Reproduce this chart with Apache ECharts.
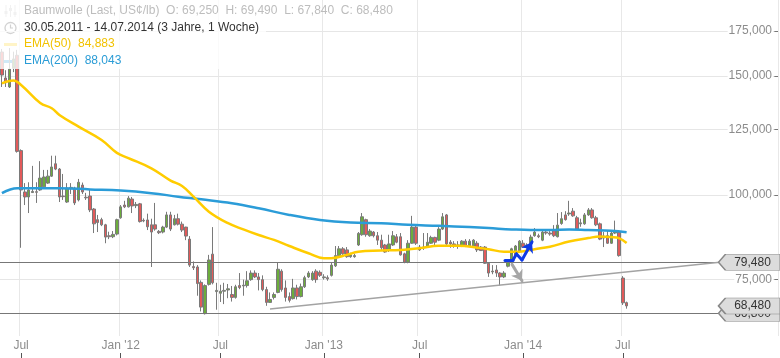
<!DOCTYPE html>
<html><head><meta charset="utf-8">
<script src="https://cdn.jsdelivr.net/npm/echarts@6/dist/echarts.min.js"></script>
<style>html,body{margin:0;padding:0;background:#fff}#c{width:780px;height:358px}</style>
</head><body><div id="c"></div>
<script>
// ---------- data (US cents / lb, weekly) ----------
const startDate = '2011-05-30';
const slotCount = 203;            // weekly slots on the axis (data + empty future)
// [open, close, low, high]
const candles = [
[162.8,150.5,144.5,164.5],[149,146.6,144.5,153],[144.5,153.6,144,165],[154,159,152,163],[161,116,115.5,164],
[116.3,101.7,83.5,116.8],[101,99.3,96.6,104.1],[99.3,101.7,94,104.4],[100.8,101.2,100.7,110.4],[101.1,100.9,97.3,104.4],
[101.7,105.9,101.4,112.2],[102.8,106.3,102.3,108.9],[104.1,106.6,103.8,108.9],[106.6,110,106.3,114.3],[111.2,109.2,108.8,114.3],
[109.2,99.3,97.6,109.6],[99.6,99.4,98.3,107.4],[97.6,102.4,97.3,104.1],[102.2,102.6,100.3,104.1],[102.4,97.3,96.6,102.8],
[98.3,104.4,97.8,105.6],[103.4,101,100.3,104.3],[99.2,99,98.3,100.7],[99.6,95,94.3,101.7],[95.3,90.6,87.8,95.6],
[91.9,91,88.1,93.4],[91.9,90.3,89.9,92.5],[90.3,86.6,84.8,90.6],[87,86.7,86,88.2],[86.7,87.4,86.3,88.4],
[87.5,91.9,87.1,92.2],[92.5,96,92.2,96.6],[96.6,96,95.6,98],[96,98.9,95.8,99.6],[98.6,96.3,94,99.3],
[96.4,96.8,95.6,97.6],[97,91.3,91,97.3],[91.7,91.5,91.1,92.3],[91.8,89.7,88.7,93.8],[90.3,88.1,78.2,92.2],
[90.3,89,88.5,97.3],[88.3,87.9,87.5,88.7],[88.1,89.6,87.7,90],[89.6,93.4,89.3,94.4],[93.4,89,88.4,94.4],
[90.3,92.2,90.1,93.4],[92.2,90.5,90.1,93.8],[90.5,88.7,88.1,91.3],[89.6,86.9,85.7,89.7],[86,78.7,78.2,86.9],
[78.3,78,77.4,79.7],[78.2,73.9,70.9,78.7],[74.2,68.2,67.2,74.7],[66.7,73.4,66.5,73.7],[73.7,80.1,73.4,81.5],
[81.7,74.1,73.7,89.6],[71.9,72.2,67.6,74.1],[71.5,72,69.4,73.6],[72,72.2,68.9,74.1],[72.3,72.6,70.3,73.8],
[71.2,70.5,69.5,73.3],[70.5,73.1,70.2,73.6],[73.4,72.9,72.5,76.6],[73.3,73.5,70.9,74.9],[73.4,74.6,72.9,77.1],
[74.9,76.6,74.6,77.3],[76.6,75.6,75.3,77.3],[75.6,74.9,72.2,76.6],[74.9,72.4,72,76],[72.4,69.3,68.5,73.1],
[69.3,70,69.2,71.7],[70.5,71.2,70,71.7],[71.7,77.6,71.5,79.5],[77.1,72.4,71.9,77.6],[72.8,70.5,69.5,74.7],
[70.7,69.8,69.3,71.7],[70.2,72.8,70,75.1],[72.8,70.7,70,73.6],[70.7,73.1,70.5,73.9],[73.1,75.4,72.8,75.9],
[75.6,76.6,75.3,77.1],[74.9,76.6,74.6,77.1],[77.1,74.9,74.1,77.6],[76.8,76,75.6,77.3],[75.4,75.6,74.9,76.3],
[75.4,75.1,74.6,76],[76,78.7,75.7,79.5],[78.5,81.3,78.2,84],[81.3,83.2,81,84],[83.2,81.8,81.5,83.7],
[82.9,81,80.7,83.7],[81,81.5,80.7,82.1],[81,81.3,80.7,81.8],[84.3,87.7,84,88.1],[87.3,92.8,87,94],
[91.9,87.3,86.7,92.2],[87,88.4,86.7,89],[88.1,87,86.5,88.4],[87,85.7,84.3,88.1],[85.7,83.5,82.9,87.3],
[84.3,82.3,82.1,84.6],[82.9,84.6,82.3,87.3],[84.3,87,84,88.4],[86.7,85.1,84.8,87.5],[86.7,81.5,81.3,87.8],
[81.8,79.5,79.2,82.1],[79.5,84.8,79.2,85.7],[84.8,89.6,84.6,93.1],[89.6,84.8,84.3,89.9],[83.7,82.9,82.6,84.3],
[83.5,83.7,82.9,87.8],[84,85.1,83.5,87.8],[84.8,86.5,84.6,87],[86.5,85.1,84.3,86.7],[85.7,89,85.4,89.6],
[89,92.8,88.7,94],[93.4,84.6,84.3,93.7],[85.1,84.6,83.5,85.7],[84.6,84,83.5,85.4],[84,84.3,83.2,85.4],
[84,85.4,83.7,85.7],[85.4,84,83.7,86],[84,85.4,83.7,86],[84,85.7,83.7,86],[84.8,82.9,82.3,85.4],
[83.7,82.7,82.6,84],[83.7,79.2,79,84],[79.2,76.6,75.6,79.5],[76.9,77.1,76.3,78.7],[77.4,76.6,75.6,78.7],
[76.6,75.6,73.4,76.8],[75.6,76.6,75.3,77.1],[78.4,79.8,78.1,80.1],[79.8,83.2,79.5,83.5],[81.3,84,81,84.3],
[82.6,85.4,82.3,85.7],[84.8,83.7,83.5,85.7],[83.7,84.3,83.2,84.8],[84.8,86.6,84.6,87.3],[87,88.1,86.7,89.3],
[87,86.7,86.3,87.6],[85.7,88.1,85.4,89],[88.1,87.8,87.3,88.4],[87.8,87.5,87,88.4],[88.7,87,86.6,90.2],
[86.7,90.2,86.5,94],[90.7,92.2,90.3,94.3],[93.4,91.9,91.6,94.6],[93.7,94,93.1,98],[94.6,93.1,92.8,95.6],
[92.5,89,88.7,93.1],[90.6,90.9,89.7,92.2],[90.6,93.4,90.3,94],[93.4,95,93.1,95.6],[95,92.5,92.2,95.6],
[92.5,90.3,89.9,93.1],[90.6,86,85.7,91],[86.3,86.9,83.7,88.1],[87,84.8,84.6,88.7],[84.8,87.8,84.6,88.4],
[87.8,88.4,87.5,91.6],[88.1,81.3,81,88.7],[75.3,69.2,68.7,75.8],[69.25,68.48,67.84,69.49]
];
const ema50Weeks  = [0,3,5,10,13,15,20,26,30,33,39,44,47,50,54,59,63,67,71,75,80,84,86,90,93,99,104,109,114,119,125,127,131,135,139,143,148,153,156,159,161,163];
const ema50Values = [146.3,147.7,145.5,136.8,134.4,131.35,126.2,120.6,115.4,113.4,109.5,105.0,103.1,99.4,94.45,90.8,88.9,87.2,85.76,84.0,81.95,80.6,80.6,81.5,82.4,82.7,82.9,83.4,84.1,84.1,83.4,83.1,82.4,82.4,83.1,83.8,85.3,86.3,86.8,86.6,86.3,84.883];
const ema200Weeks  = [0,4,7,15,23,31,39,46,52,60,67,75,83,91,99,106,114,122,127,133,138,143,148,153,159,163];
const ema200Values = [100.6,102.3,102.3,102.3,101.9,101.5,100.6,99.4,98.5,97.2,95.55,93.4,91.8,91.0,90.8,90.3,90.0,89.6,89.3,88.9,88.7,88.7,88.9,88.7,88.5,88.043];
const yTicks = [75, 100, 125, 150, 175];
const supportLevel = 66.8;
const resistanceLevel = 79.48;
const trendStart = [69.95, 67.78];   // [week, price]
const trendEnd   = [187.3, 79.48];
const blueArrow = [[131.27,80.1],[133.36,80.1],[134.27,81.76],[135.7,80.1],[138.31,85.18]];
const greyArrow = [[133.1,78.9],[135.7,74.6]];

// ---------- helpers ----------
const categories = [];
const d0 = Date.UTC(2011,4,30);
for (let i = 0; i < slotCount; i++) categories.push(new Date(d0 + i*7*86400000).toISOString().slice(0,10));
const fmt = v => v.toFixed(3).replace('.', ',');
const deDate = s => s.slice(8,10)+'.'+s.slice(5,7)+'.'+s.slice(0,4);
function isHalfYearStart(i){
  if (i <= 0 || i >= candles.length) return false;
  const m = +categories[i].slice(5,7), pm = +categories[i-1].slice(5,7);
  return m !== pm && (m === 1 || m === 7);
}
const labelFmt = v => v.slice(5,7) === '01' ? "Jan '" + v.slice(2,4) : 'Jul';
const FONT = '"Liberation Sans", Arial, sans-serif';
const last = candles[candles.length-1];
const xW = 778 / slotCount;
const labelU = 749.5 / xW - 0.5;
const arrowSymbol = 'path://M0,8 L7,0 L62,0 L62,16 L7,16 Z';
const priceTag = (z, items) => ({z:z, silent:true, animation:false,
  symbol:arrowSymbol, symbolSize:[62,16], symbolKeepAspect:false,
  itemStyle:{color:'#dcdcdc', borderColor:'#888', borderWidth:1},
  label:{show:true, position:'inside', color:'#333', fontSize:12, fontFamily:FONT, offset:[3,0], formatter:p=>p.name},
  data: items.map(v => ({name:fmt(v), coord:[labelU, v]}))});

const chart = echarts.init(document.getElementById('c'), null, {renderer:'canvas'});
const arrowSegs = [];
for (let i = 0; i < blueArrow.length-1; i++) arrowSegs.push({coords:[blueArrow[i], blueArrow[i+1]], lineStyle:{color:'#0f3be6'}, symbol: i === blueArrow.length-2 ? ['none','arrow'] : ['none','none']});
arrowSegs.push({coords:greyArrow, lineStyle:{color:'#a6a6a6'}, symbol:['none','arrow']});

const option = {
  animation:false,
  backgroundColor:'#fff',
  textStyle:{fontFamily:FONT},
  grid:{left:0,right:2,top:0,bottom:22,containLabel:false},
  xAxis:[
    {type:'category', data:categories, boundaryGap:true,
     axisLine:{show:false}, axisTick:{show:false},
     axisLabel:{interval:(i)=>isHalfYearStart(i), formatter:labelFmt, color:'#8c8c8c', fontSize:12, fontFamily:FONT, margin:4},
     splitLine:{show:true, interval:(i)=>isHalfYearStart(i), lineStyle:{color:'#e8e8e8', width:1}}},
    {type:'value', min:-0.5, max:slotCount-0.5, show:false},
    {type:'category', data:categories, position:'bottom', offset:17,
     axisLine:{show:false}, axisLabel:{show:false}, splitLine:{show:false},
     axisTick:{show:true, interval:(i)=>isHalfYearStart(i), alignWithLabel:true, length:5, lineStyle:{color:'#555'}}}
  ],
  yAxis:{type:'log', logBase:10, min:61.8, max:194.4, position:'right',
    axisLine:{show:false}, axisTick:{show:false}, axisLabel:{show:false}, splitLine:{show:false}},
  series:[
    {type:'line', name:'EMA(200)', xAxisIndex:1, data:ema200Weeks.map((w,i)=>[w, ema200Values[i]]),
     smooth:0.4, symbol:'none', silent:true, z:3, lineStyle:{color:'#2b9cd8', width:2.5},
     markLine:{z:1, silent:true, symbol:['none','none'], animation:false,
       lineStyle:{color:'#e6e6e6', width:1, type:'solid'},
       label:{show:true, position:'insideEnd', distance:5, color:'#8c8c8c', fontSize:12, fontFamily:FONT, backgroundColor:'#fff', padding:[0,1]},
       data: yTicks.map(v => ({yAxis:v, label:{formatter:fmt(v)}}))
         .concat(yTicks.map(v => [{coord:[201.55, v], lineStyle:{color:'#777', width:1}, label:{show:false}}, {coord:[202.5, v], label:{show:false}}]))
     },
     markPoint: priceTag(6, [supportLevel])},
    {type:'candlestick', name:'Baumwolle', xAxisIndex:0, data:candles, barWidth:3, silent:true, z:2,
     itemStyle:{color:'#6cad3c', color0:'#e25a5a', borderColor:'#7a7a7a', borderColor0:'#7a7a7a', borderWidth:1}},
    {type:'line', name:'EMA(50)', xAxisIndex:1, data:ema50Weeks.map((w,i)=>[w, ema50Values[i]]),
     smooth:0.4, symbol:'none', silent:true, z:3, lineStyle:{color:'#ffcc00', width:2.5},
     markLine:{z:4, silent:true, symbol:['none','none'], animation:false,
       lineStyle:{color:'#777', width:1, type:'solid'}, label:{show:false},
       data:[
         [{coord:[-0.5, supportLevel]}, {coord:[trendEnd[0], supportLevel]}],
         [{coord:[-0.5, resistanceLevel]}, {coord:[trendEnd[0], resistanceLevel]}],
         [{coord:trendStart, lineStyle:{color:'#a3a3a3', width:1.5}}, {coord:trendEnd}]
       ]},
     markPoint: priceTag(8, [resistanceLevel, last[1]])},
    {type:'lines', coordinateSystem:'cartesian2d', xAxisIndex:1, yAxisIndex:0, silent:true, z:5,
     symbolSize:10, lineStyle:{width:3, cap:'round', join:'round', opacity:1}, data:arrowSegs}
  ],
  graphic:[
    {type:'rect', z:100, silent:true, shape:{x:0,y:0,width:266,height:69}, style:{fill:'rgba(255,255,255,0.78)'}},
    {type:'group', z:101, silent:true, children:[
      {type:'line', shape:{x1:6,y1:5,x2:6,y2:17}, style:{stroke:'#bdbdbd', lineWidth:1}},
      {type:'line', shape:{x1:10.5,y1:5,x2:10.5,y2:17}, style:{stroke:'#bdbdbd', lineWidth:1}},
      {type:'line', shape:{x1:15,y1:5,x2:15,y2:17}, style:{stroke:'#bdbdbd', lineWidth:1}},
      {type:'rect', shape:{x:4.5,y:11,width:3,height:3}, style:{fill:'#bdbdbd'}},
      {type:'rect', shape:{x:9,y:8,width:3,height:3}, style:{fill:'#bdbdbd'}},
      {type:'rect', shape:{x:13.5,y:12,width:3,height:3}, style:{fill:'#bdbdbd'}},
      {type:'circle', shape:{cx:10.5,cy:28,r:5.5}, style:{stroke:'#333', lineWidth:1.3, fill:'none'}},
      {type:'polyline', shape:{points:[[10.5,24.5],[10.5,28],[13,28]]}, style:{stroke:'#333', lineWidth:1.2, fill:'none'}},
      {type:'rect', shape:{x:4,y:43,width:13,height:3}, style:{fill:'#ffcc00'}},
      {type:'rect', shape:{x:4,y:60,width:13,height:3}, style:{fill:'#2b9cd8'}}
    ]},
    {type:'text', z:102, silent:true, x:24, y:11, style:{text:'Baumwolle (Last, US\u00a2/lb)  O: '+fmt(last[0])+'  H: '+fmt(last[3])+'  L: '+fmt(last[2])+'  C: '+fmt(last[1]), fill:'#bdbdbd', fontSize:12, fontFamily:FONT, verticalAlign:'middle'}},
    {type:'text', z:102, silent:true, x:24, y:28, style:{text:deDate(categories[0])+' - '+deDate(categories[candles.length-1])+' (3 Jahre, 1 Woche)', fill:'#333', fontSize:12, fontFamily:FONT, verticalAlign:'middle'}},
    {type:'text', z:102, silent:true, x:24, y:44, style:{text:'EMA(50)  '+fmt(ema50Values[ema50Values.length-1]), fill:'#f2c200', fontSize:12, fontFamily:FONT, verticalAlign:'middle'}},
    {type:'text', z:102, silent:true, x:24, y:61, style:{text:'EMA(200)  '+fmt(ema200Values[ema200Values.length-1]), fill:'#2a9cd6', fontSize:12, fontFamily:FONT, verticalAlign:'middle'}}
  ]
};
chart.setOption(option);
</script>
</body></html>
